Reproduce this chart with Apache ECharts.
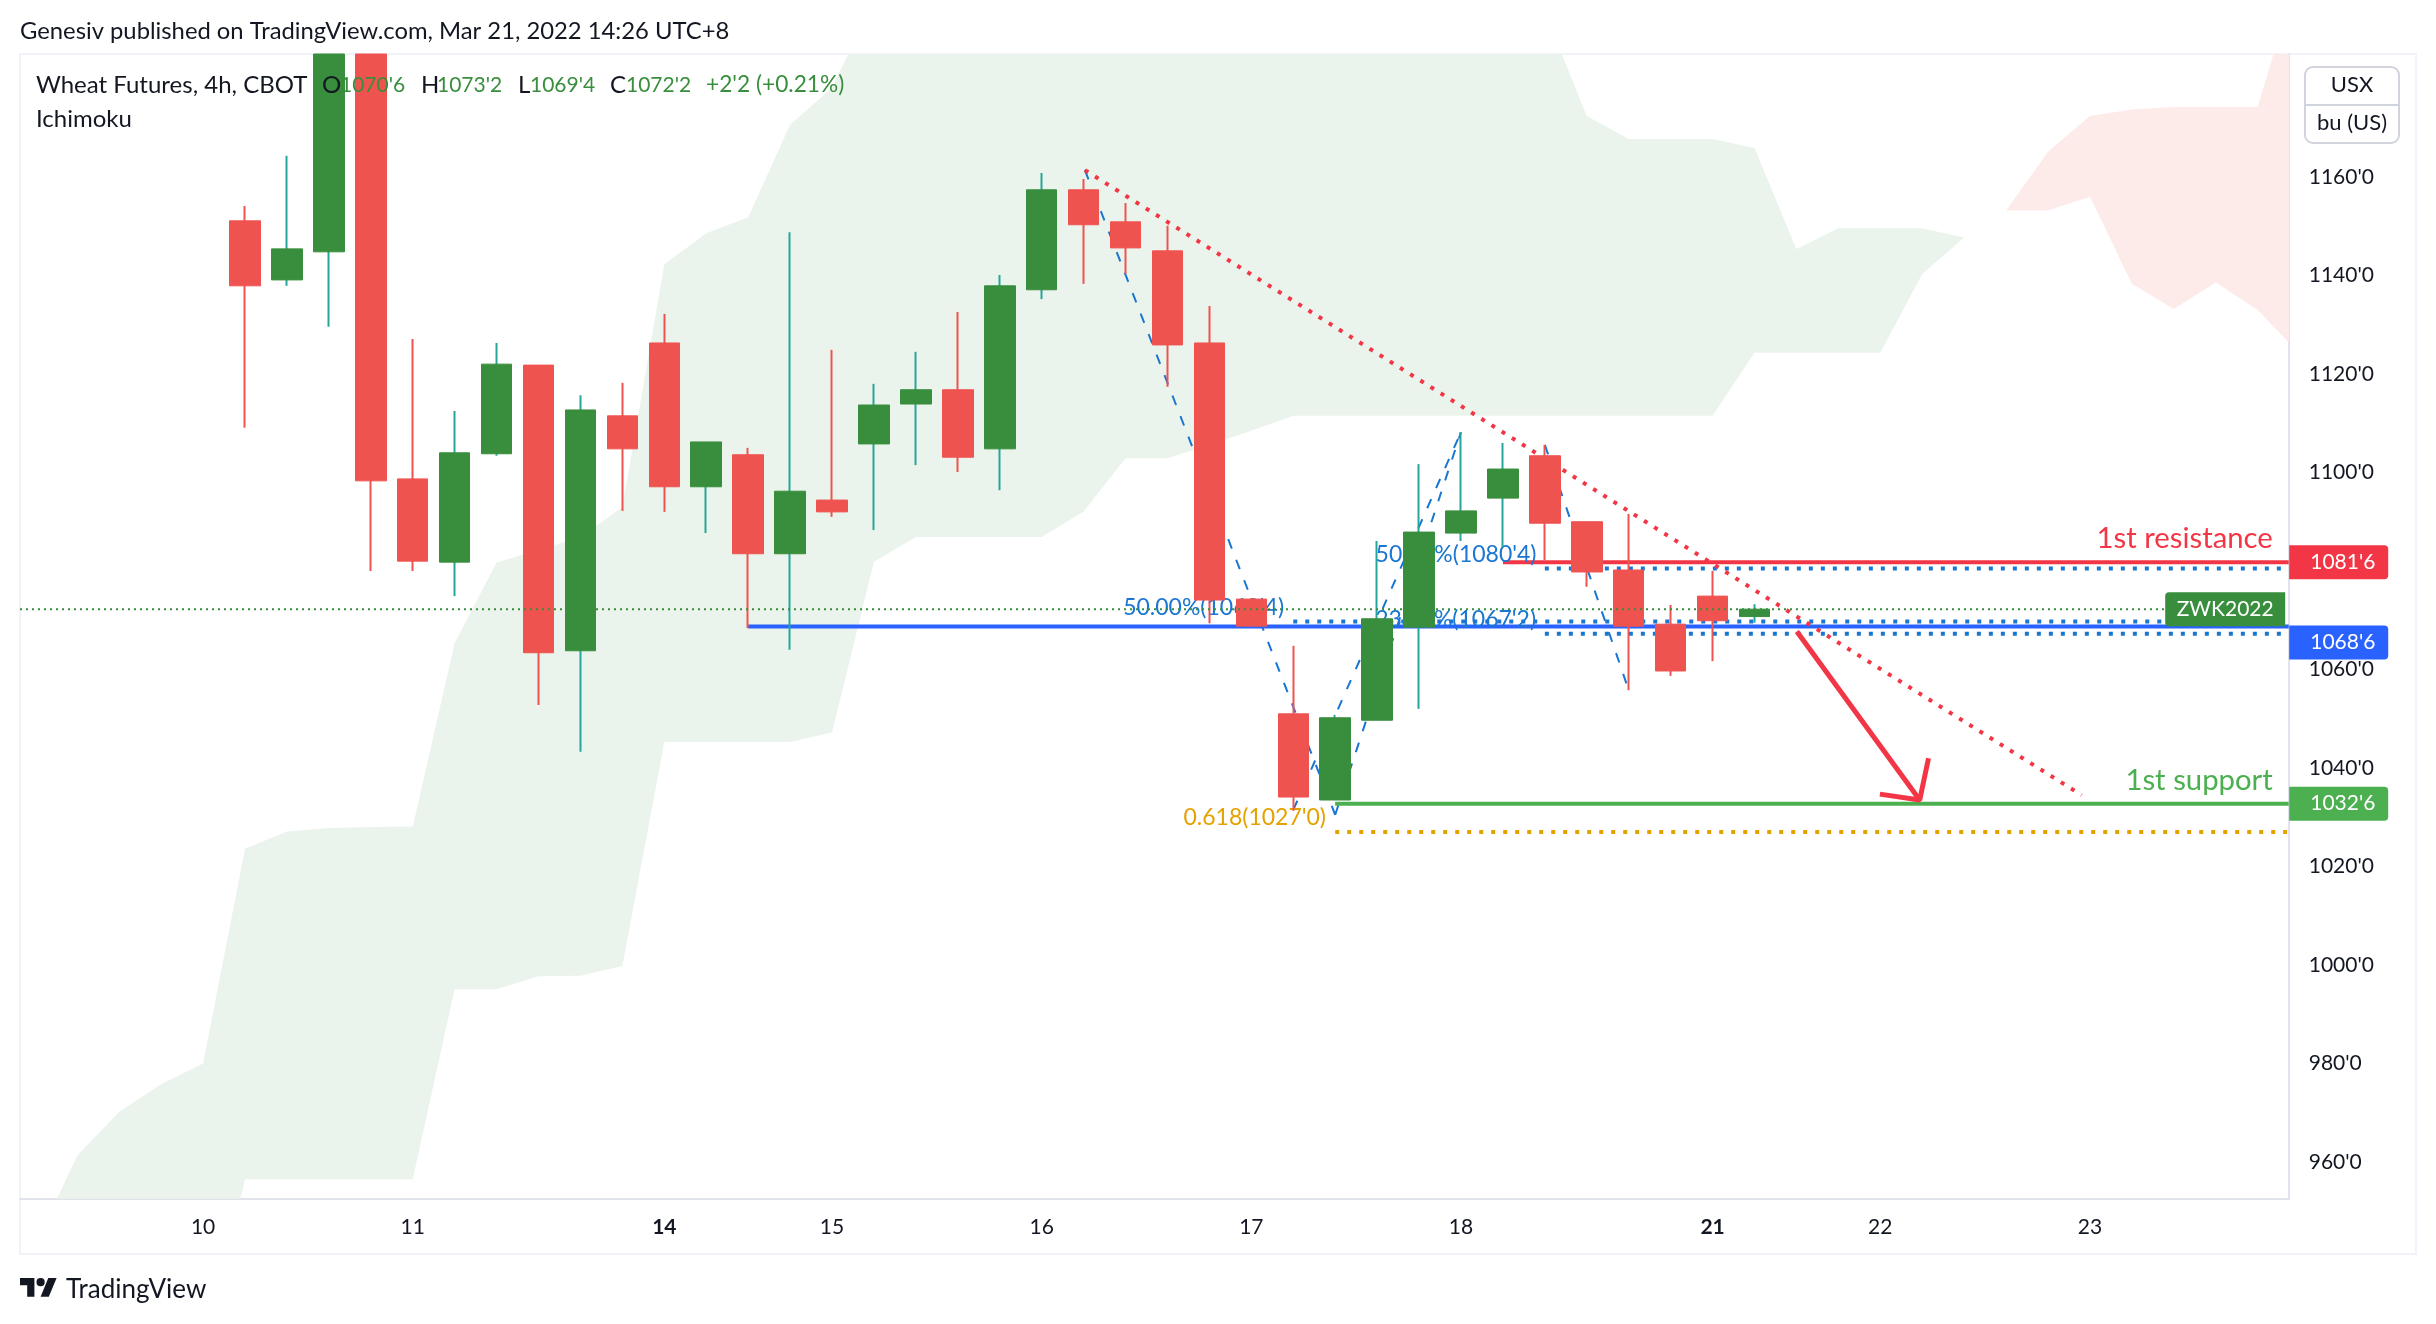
<!DOCTYPE html>
<html>
<head>
<meta charset="utf-8">
<title>Wheat Futures</title>
<script src="https://cdn.jsdelivr.net/npm/echarts@6/dist/echarts.min.js"></script>
<style>
  html, body { margin: 0; padding: 0; background: #fff; }
  #main { width: 2436px; height: 1324px; }
</style>
</head>
<body>
<div id="main"></div>
<script>
const FONT = "Lato";

// candles, index 0 is the first bar on the chart
// bars 2 and 3 run off the top of the frame, their hidden side is held at the axis max
const opens  = [1151.1,1139.1,1144.8,1184.97,1098.7,1081.8,1103.8,1121.8,1063.8,1111.5,1126.3,1097.1,1103.6,1083.5,1094.4,1105.8,1113.9,1116.8,1104.8,1137.1,1157.4,1150.9,1145.0,1126.3,1074.3,1051.0,1033.5,1049.7,1068.6,1087.7,1094.8,1103.4,1090.0,1080.2,1069.2,1074.9,1070.75];
const closes = [1137.9,1145.4,1184.97,1098.3,1082.0,1104.0,1122.0,1063.4,1112.7,1104.8,1097.1,1106.2,1083.5,1096.2,1092.0,1113.7,1116.8,1103.1,1137.9,1157.4,1150.3,1145.6,1125.9,1074.1,1068.8,1034.1,1050.2,1070.3,1087.9,1092.2,1100.7,1089.7,1079.8,1068.8,1059.7,1069.9,1072.25];
const highs  = [1154.1,1164.3,1184.97,1184.97,1127.1,1112.5,1126.3,1121.8,1115.7,1118.2,1132.2,1106.2,1105.0,1148.8,1124.9,1118.0,1124.5,1132.6,1140.1,1160.8,1159.6,1154.7,1150.1,1133.8,1074.5,1064.8,1050.8,1086.1,1101.7,1108.2,1106.0,1105.6,1090.0,1091.6,1073.1,1080.0,1073.25];
const lows   = [1109.1,1137.9,1129.6,1080.0,1080.0,1074.9,1103.4,1052.8,1043.3,1092.2,1092.0,1087.7,1068.4,1064.0,1091.0,1088.3,1101.5,1100.1,1096.4,1135.2,1138.3,1140.3,1117.4,1069.4,1068.8,1031.3,1033.5,1049.7,1052.0,1086.1,1084.7,1082.2,1076.8,1055.8,1058.7,1061.7,1069.5];

// ichimoku cloud, green part runs from bar -5 to bar 41
const greenStart = -5;
const greenUpper = [943.2,961.3,970.2,975.8,980.0,1023.6,1027.1,1027.8,1028.0,1028.1,1065.4,1081.7,1084.3,1086.9,1093.0,1142.3,1148.6,1151.8,1170.6,1178.1,1196,1196,1196,1196,1196,1196,1196,1196,1196,1196,1196,1196,1196,1196,1196,1196,1193.5,1172.4,1167.7,1167.7,1167.7,1165.9,1145.4,1149.6,1149.6,1149.6,1147.7];
const greenLower = [915,915,915,915,918.8,956.5,956.5,956.5,956.5,956.5,995.1,995.1,997.7,997.8,999.8,1045.3,1045.3,1045.3,1045.3,1047.2,1081.9,1086.9,1086.9,1086.9,1086.9,1092.1,1102.9,1102.9,1105.6,1108.5,1111.5,1111.5,1111.5,1111.5,1111.5,1111.5,1111.5,1111.5,1111.5,1111.5,1111.5,1124.3,1124.3,1124.3,1124.3,1140.3,1147.7];
const redStart = 42;
const redUpper = [1153.2,1165.1,1172.4,1173.7,1174.2,1174.2,1174.2,1202.6];
const redLower = [1153.2,1153.2,1156.0,1138.3,1133.2,1138.6,1133.0,1124.1];

// axis
const priceTicks = [960,980,1000,1020,1040,1060,1080,1100,1120,1140,1160];
const dayTicks = [-1,4,10,14,19,24,29,35,39,44];
const dayLabels = ["10","11","14","15","16","17","18","21","22","23"];
const boldDays = ["14","21"];

// drawings
const trendX = [20.03,43.8];
const trendY = [1161.4,1034.5];
const zigA = [[20.03,1161.4],[26,1030.5]];
const zigB = [[25,1031.5],[29,1108.2]];
const zigC = [[26,1030.5],[29,1108.2]];
const zigD = [[31,1105.6],[33,1055.8]];
const arrowShaft = [[37.01,1067.7],[39.94,1033.5]];
const arrowHead = [[38.99,1034.7],[39.94,1033.5],[40.15,1042.0]];
const resistance = [[30,1081.75],[48.74,1081.75]];
const blueLevel = [[12,1068.75],[48.74,1068.75]];
const support = [[26,1032.75],[48.74,1032.75]];
const fib1080 = [[31,1080.5],[48.56,1080.5]];
const fib1069 = [[25,1069.75],[48.56,1069.75]];
const fib1067 = [[31,1067.25],[48.56,1067.25]];
const fib1027 = [[26,1027.0],[48.7,1027.0]];
const lastPrice = [[-5.366,1072.25],[46.0,1072.25]];

const chart = echarts.init(document.getElementById("main"), null, { renderer: "canvas" });

const RED = "#ef5350", GREEN = "#388e3c", TEAL = "#26a69a";
const LINE_RED = "#f23645", LINE_BLUE = "#2962ff", LINE_GREEN = "#4caf50";
const FIB_BLUE = "#1976d2", FIB_ORANGE = "#e5a100", INK = "#131722";

const cloudSeries = (start, upper, lower, color) => ({
  type: "custom",
  z: 1,
  silent: true,
  clip: true,
  data: [[start, upper[0]]],
  renderItem: (params, api) => {
    const points = [];
    upper.forEach((v, i) => points.push(api.coord([start + i, v])));
    for (let i = lower.length - 1; i >= 0; i--) points.push(api.coord([start + i, lower[i]]));
    return { type: "polygon", shape: { points }, style: { fill: color } };
  }
});

const lineSeries = (data, color, width, dash, z) => ({
  type: "line",
  data,
  z: z || 2,
  silent: true,
  showSymbol: false,
  symbol: "none",
  lineStyle: { color, width, type: dash || "solid", cap: "butt" }
});

const noteSeries = (x, v, text, color, size) => ({
  type: "scatter",
  z: 2,
  silent: true,
  symbolSize: 1,
  itemStyle: { color: "transparent" },
  data: [[x, v]],
  label: {
    show: true, position: "inside", align: "right", verticalAlign: "middle", opacity: 1,
    formatter: text, color, fontFamily: FONT, fontSize: size
  }
});

const priceTag = (v, text, color, offset) => ({
  type: "scatter",
  z: 6,
  silent: true,
  clip: false,
  symbolSize: 1,
  itemStyle: { color: "transparent" },
  data: [[48.74, v]],
  label: {
    show: true, position: "right", distance: 0, offset: [0, offset || 0], opacity: 1,
    formatter: text, color: "#fff", fontFamily: FONT, fontSize: 21,
    width: 78, height: 34, lineHeight: 34, padding: [0, 0, 0, 21],
    backgroundColor: color, borderRadius: [0, 4, 4, 0]
  }
});

const legendBits = [
  ["Wheat Futures, 4h, CBOT", 36, INK, 24],
  ["O", 322, INK, 24], ["1070'6", 340, GREEN, 21],
  ["H", 421, INK, 24], ["1073'2", 437, GREEN, 21],
  ["L", 518, INK, 24], ["1069'4", 530, GREEN, 21],
  ["C", 610, INK, 24], ["1072'2", 626, GREEN, 21],
  ["+2'2 (+0.21%)", 706, GREEN, 22.7]
];
const legendText = legendBits.map(([text, x, fill, size]) => ({
  type: "text", z: 20, x, y: 85,
  style: { text, fill, font: size + "px " + FONT, textVerticalAlign: "middle" }
}));

chart.setOption({
  animation: false,
  backgroundColor: "#fff",
  grid: { left: 20, top: 54, width: 2268.7, height: 1144.7 },
  xAxis: {
    type: "value",
    min: -5.366,
    max: 48.74,
    splitLine: { show: false },
    axisLine: { onZero: false, lineStyle: { color: "#e0e3eb", width: 2 } },
    axisTick: { show: false },
    axisLabel: {
      customValues: dayTicks,
      margin: 18,
      color: INK,
      fontFamily: FONT,
      fontSize: 21,
      formatter: (value) => {
        const label = dayLabels[dayTicks.indexOf(value)];
        return boldDays.includes(label) ? "{b|" + label + "}" : label;
      },
      rich: { b: { fontWeight: "bold", fontFamily: FONT, fontSize: 21, color: INK } }
    }
  },
  yAxis: {
    type: "value",
    position: "right",
    min: 952.55,
    max: 1184.97,
    splitLine: { show: false },
    axisLine: { show: true, onZero: false, lineStyle: { color: "#e0e3eb", width: 2 } },
    axisTick: { show: false },
    axisLabel: {
      customValues: priceTicks,
      margin: 20,
      color: INK,
      fontFamily: FONT,
      fontSize: 21,
      formatter: (value) => value + "'0"
    }
  },
  series: [
    cloudSeries(greenStart, greenUpper, greenLower, "#ebf4ec"),
    cloudSeries(redStart, redUpper, redLower, "#fdebe9"),

    lineSeries(zigA, FIB_BLUE, 2, [10, 12]),
    lineSeries(zigB, FIB_BLUE, 2, [10, 12]),
    lineSeries(zigC, FIB_BLUE, 2, [10, 12]),
    lineSeries(zigD, FIB_BLUE, 2, [10, 12]),
    lineSeries(fib1080, FIB_BLUE, 4, [4, 8]),
    lineSeries(fib1069, FIB_BLUE, 4, [4, 8]),
    lineSeries(fib1067, FIB_BLUE, 4, [4, 8]),
    lineSeries(fib1027, FIB_ORANGE, 4, [4, 8]),
    lineSeries(resistance, LINE_RED, 4),
    lineSeries(blueLevel, LINE_BLUE, 4),
    lineSeries(support, LINE_GREEN, 4),
    lineSeries(trendX.map((x, i) => [x, trendY[i]]), LINE_RED, 4, [4, 8]),
    lineSeries(arrowShaft, LINE_RED, 5),
    lineSeries(arrowHead, LINE_RED, 5),

    noteSeries(24.78, 1072.5, "50.00%(1069'4)", FIB_BLUE, 23),
    noteSeries(30.8, 1083.25, "50.00%(1080'4)", FIB_BLUE, 23),
    noteSeries(30.79, 1070.05, "23.60%(1067'2)", FIB_BLUE, 23),
    noteSeries(25.78, 1029.85, "0.618(1027'0)", FIB_ORANGE, 23),
    noteSeries(48.36, 1086.5, "1st resistance", LINE_RED, 29.3),
    noteSeries(48.36, 1037.4, "1st support", LINE_GREEN, 29.3),

    // thin series gives the wicks, wide one the bodies
    {
      type: "candlestick",
      z: 3,
      silent: true,
      barWidth: 1,
      data: opens.map((o, i) => [i, o, closes[i], lows[i], highs[i]]),
      itemStyle: { color: TEAL, color0: RED, borderColor: TEAL, borderColor0: RED, borderWidth: 2 }
    },
    {
      type: "candlestick",
      z: 4,
      silent: true,
      barWidth: 31,
      data: opens.map((o, i) => [i, o, closes[i], Math.min(o, closes[i]), Math.max(o, closes[i])]),
      itemStyle: { color: GREEN, color0: RED, borderColor: GREEN, borderColor0: RED, borderWidth: 1 }
    },

    lineSeries(lastPrice, GREEN, 2, [2, 4], 5),

    priceTag(1081.75, "1081'6", LINE_RED),
    priceTag(1068.75, "1068'6", LINE_BLUE, 16),
    priceTag(1032.75, "1032'6", LINE_GREEN),
    {
      type: "scatter",
      z: 6,
      silent: true,
      clip: false,
      symbolSize: 1,
      itemStyle: { color: "transparent" },
      data: [[48.74, 1072.25]],
      label: {
        show: true, position: "left", distance: 3, offset: [-60, 0], opacity: 1, formatter: "ZWK2022",
        color: "#fff", fontFamily: FONT, fontSize: 21, align: "center",
        width: 120, height: 34, lineHeight: 34,
        backgroundColor: GREEN, borderRadius: [4, 0, 0, 4]
      }
    }
  ],
  graphic: [
    { type: "rect", z: -1, silent: true, shape: { x: 20, y: 54, width: 2396, height: 1200 },
      style: { fill: "none", stroke: "#f0f3fa", lineWidth: 2 } },
    { type: "text", x: 20, y: 31, z: 20,
      style: { text: "Genesiv published on TradingView.com, Mar 21, 2022 14:26 UTC+8", fill: INK, font: "23.8px " + FONT, textVerticalAlign: "middle" } },
    ...legendText,
    { type: "text", x: 36, y: 119, z: 20,
      style: { text: "Ichimoku", fill: INK, font: "24px " + FONT, textVerticalAlign: "middle" } },
    { type: "rect", z: 20, shape: { x: 2305, y: 67, width: 94, height: 76, r: 8 },
      style: { fill: "#fff", stroke: "#d1d4dc", lineWidth: 2 } },
    { type: "line", z: 21, shape: { x1: 2305, y1: 105, x2: 2399, y2: 105 },
      style: { stroke: "#d1d4dc", lineWidth: 2 } },
    { type: "text", x: 2352, y: 85, z: 22,
      style: { text: "USX", fill: INK, font: "22px " + FONT, textAlign: "center", textVerticalAlign: "middle" } },
    { type: "text", x: 2352, y: 123, z: 22,
      style: { text: "bu (US)", fill: INK, font: "22px " + FONT, textAlign: "center", textVerticalAlign: "middle" } },
    { type: "polygon", z: 20, shape: { points: [[20,1278.1],[34.4,1278.1],[34.4,1296.7],[27.2,1296.7],[27.2,1285.3],[20,1285.3]] },
      style: { fill: INK } },
    { type: "polygon", z: 20, shape: { points: [[40.6,1296.7],[48.3,1278.1],[56.6,1278.1],[48.8,1296.7]] },
      style: { fill: INK } },
    { type: "circle", z: 20, shape: { cx: 40.6, cy: 1282.2, r: 4.1 }, style: { fill: INK } },
    { type: "text", x: 66, y: 1290, z: 20,
      style: { text: "TradingView", fill: INK, font: "26px " + FONT, textVerticalAlign: "middle" } }
  ]
});
</script>
</body>
</html>
